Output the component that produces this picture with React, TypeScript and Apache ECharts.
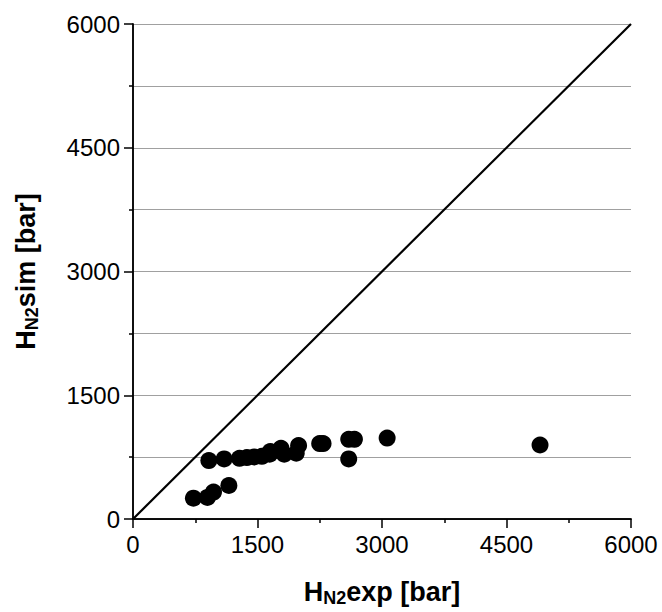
import React, { useEffect, useRef } from "react";
import * as echarts from "echarts";

const expValues = [728, 897, 970, 1155, 914, 1098, 1283, 1372, 1460, 1553, 1646, 1654, 1783, 1822, 1967, 1995, 2249, 2290, 2599, 2668, 2599, 3062, 4904];
const simValues = [253, 262, 326, 406, 708, 728, 736, 745, 752, 760, 785, 817, 857, 785, 797, 890, 914, 914, 966, 966, 728, 981, 897];
const parityLine = [[0, 0], [6000, 6000]];
const xTitle = ["H", "N2", "exp [bar]"];
const yTitle = ["H", "N2", "sim [bar]"];

export default function App() {
  const ref = useRef<HTMLDivElement>(null);
  useEffect(() => {
    if (!ref.current) return;
    const chart = echarts.init(ref.current, null, { renderer: "svg" });
    const font = "Liberation Sans, Arial, sans-serif";
    const rich = {
      b: { fontSize: 27, fontWeight: "bold", fontFamily: font, color: "#000" },
      s: { fontSize: 18, fontWeight: "bold", fontFamily: font, color: "#000", padding: [13, 0, 0, 0] },
    };
    const axisCommon = {
      type: "value",
      min: 0,
      max: 6000,
      interval: 1500,
      axisLine: { show: true, lineStyle: { color: "#000", width: 1.5 } },
      axisTick: { show: true, length: 9, lineStyle: { color: "#000", width: 1.5 } },
      minorTick: { show: true, splitNumber: 2, length: 4, lineStyle: { color: "#000", width: 1.5 } },
      axisLabel: { color: "#000", fontSize: 24, fontFamily: font, margin: 13, formatter: (v: number) => String(v) },
    };
    const frame = {
      type: "value",
      min: 0,
      max: 6000,
      interval: 1500,
      axisLine: { show: true, lineStyle: { color: "#000", width: 1.5 } },
      axisTick: { show: false },
      axisLabel: { show: false },
      splitLine: { show: false },
    };
    chart.setOption({
      animation: false,
      backgroundColor: "#fff",
      grid: { left: 133, top: 24, width: 498, height: 497 },
      xAxis: [
        {
          ...axisCommon,
          splitLine: { show: false },
          name: `{b|${xTitle[0]}}{s|${xTitle[1]}}{b|${xTitle[2]}}`,
          nameLocation: "middle",
          nameGap: 57,
          nameTextStyle: { rich },
        },
        { ...frame, position: "top" },
      ],
      yAxis: [
        {
          ...axisCommon,
          splitLine: { show: true, lineStyle: { color: "#a0a0a0", width: 1 } },
          minorSplitLine: { show: true, lineStyle: { color: "#a0a0a0", width: 1 } },
          name: `{b|${yTitle[0]}}{s|${yTitle[1]}}{b|${yTitle[2]}}`,
          nameLocation: "middle",
          nameGap: 92,
          nameTextStyle: { rich },
        },
        { ...frame, position: "right" },
      ],
      series: [
        {
          type: "line",
          data: parityLine,
          showSymbol: false,
          symbol: "none",
          lineStyle: { color: "#000", width: 2.2 },
          silent: true,
        },
        {
          type: "scatter",
          data: expValues.map((x, i) => [x, simValues[i]]),
          symbol: "circle",
          symbolSize: 17,
          itemStyle: { color: "#000", opacity: 1 },
        },
      ],
    });
    return () => chart.dispose();
  }, []);
  return (
    <div
      ref={ref}
      style={{ position: "absolute", left: 0, top: 0, width: 662, height: 612 }}
    />
  );
}
